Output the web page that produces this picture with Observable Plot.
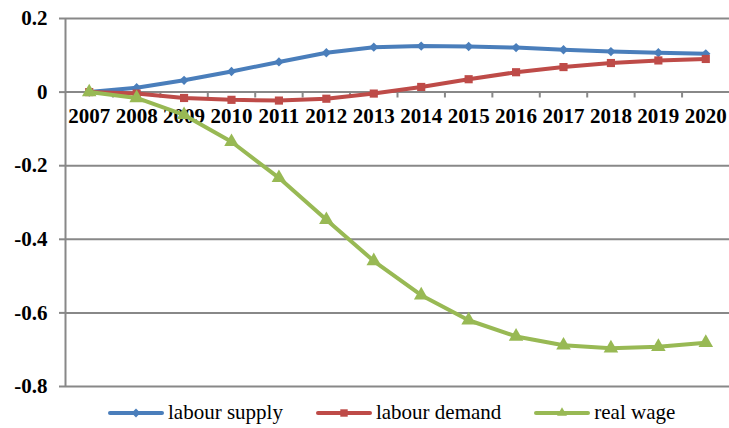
<!DOCTYPE html>
<html>
<head>
<meta charset="utf-8">
<script src="https://cdn.jsdelivr.net/npm/d3@7"></script>
<script src="https://cdn.jsdelivr.net/npm/@observablehq/plot@0.6"></script>
<style>
  html, body { margin: 0; padding: 0; background: #fff; }
  #wrap { width: 729px; height: 428px; position: relative; overflow: hidden; }
  #legend { position: absolute; left: 108px; top: 397px; height: 31px; display: flex; align-items: center; gap: 33px;
            font-family: "Liberation Serif", "Times New Roman", Times, "DejaVu Serif", serif; font-size: 21px; color: #000; }
  .item { display: flex; align-items: center; gap: 4px; }
  .item svg { display: block; }
  #chart svg text { font-family: "Liberation Serif", "Times New Roman", Times, "DejaVu Serif", serif !important; }
</style>
</head>
<body>
<div id="wrap"><div id="chart"></div><div id="legend"></div></div>
<script>
const years = [2007, 2008, 2009, 2010, 2011, 2012, 2013, 2014, 2015, 2016, 2017, 2018, 2019, 2020];
const labourSupply = [0, 0.012, 0.032, 0.056, 0.082, 0.107, 0.122, 0.125, 0.124, 0.121, 0.115, 0.110, 0.107, 0.104];
const labourDemand = [0, -0.004, -0.016, -0.021, -0.023, -0.018, -0.004, 0.014, 0.035, 0.054, 0.068, 0.079, 0.086, 0.090];
const realWage = [0, -0.016, -0.062, -0.135, -0.233, -0.347, -0.459, -0.552, -0.620, -0.664, -0.688, -0.696, -0.692, -0.681];
const yTicks = [0.2, 0, -0.2, -0.4, -0.6, -0.8];
const seriesNames = ["labour supply", "labour demand", "real wage"];
const seriesColors = ["#4A7EBB", "#BE4B48", "#98B954"];
const seriesSymbols = ["diamond2", "square", "triangle"];
const seriesSizes = [4.2, 4.6, 5.4];

const seriesValues = [labourSupply, labourDemand, realWage];
const table = seriesValues.flatMap((vals, i) => years.map((yr, j) => ({year: yr, value: vals[j], series: seriesNames[i]})));
const boundaries = years.map(y => y + 0.5).slice(0, -1);
const font = "Liberation Serif";

const marks = [
  Plot.ruleY(yTicks, {stroke: "#888", strokeWidth: 2}),
  Plot.ruleX([years[0] - 0.5], {y1: -0.8, y2: 0.2, stroke: "#888", strokeWidth: 2}),
  Plot.ruleX(boundaries, {x: d => d, y1: 0, y2: -0.016, stroke: "#888", strokeWidth: 2}),
  Plot.axisY({ticks: yTicks, label: null, tickSize: 6, tickPadding: 12, stroke: "#888", strokeWidth: 2,
    tickFormat: d => String(+d.toFixed(1)), fontSize: 21, fontWeight: "bold", fontFamily: font, fill: "#000"}),
  Plot.text(years, {x: d => d, y: 0, text: d => String(d), dy: 31, lineAnchor: "bottom",
    fontSize: 21, fontWeight: "bold", fontFamily: font, fill: "#000"})
];
seriesNames.forEach((name, i) => {
  const data = table.filter(d => d.series === name);
  marks.push(Plot.line(data, {x: "year", y: "value", stroke: seriesColors[i], strokeWidth: 4, strokeLinejoin: "round", strokeLinecap: "round"}));
  marks.push(Plot.dot(data, {x: "year", y: "value", symbol: () => seriesSymbols[i], fill: seriesColors[i], stroke: "none", r: seriesSizes[i]}));
});

const chart = Plot.plot({
  width: 729,
  height: 395,
  marginLeft: 65,
  marginRight: 0,
  marginTop: 18,
  marginBottom: 9,
  x: {type: "linear", domain: [years[0] - 0.5, years[years.length - 1] + 0.5], axis: null},
  y: {domain: [-0.8, 0.2], axis: null},
  symbol: {type: "identity"},
  style: {background: "#fff", overflow: "visible", fontFamily: "'Liberation Serif', serif"},
  marks
});
document.getElementById("chart").appendChild(chart);

const legend = document.getElementById("legend");
seriesNames.forEach((name, i) => {
  const item = document.createElement("div");
  item.className = "item";
  const sym = d3.symbol(i === 0 ? d3.symbolDiamond2 : i === 1 ? d3.symbolSquare2 : d3.symbolTriangle2, i === 0 ? 50 : 70)();
  item.innerHTML = `<svg width="56" height="14" viewBox="0 0 56 14"><line x1="2" y1="7" x2="54" y2="7" stroke="${seriesColors[i]}" stroke-width="4" stroke-linecap="round"/><path transform="translate(28,7)" d="${sym}" fill="${seriesColors[i]}"/></svg><span>${name}</span>`;
  legend.appendChild(item);
});
</script>
</body>
</html>
